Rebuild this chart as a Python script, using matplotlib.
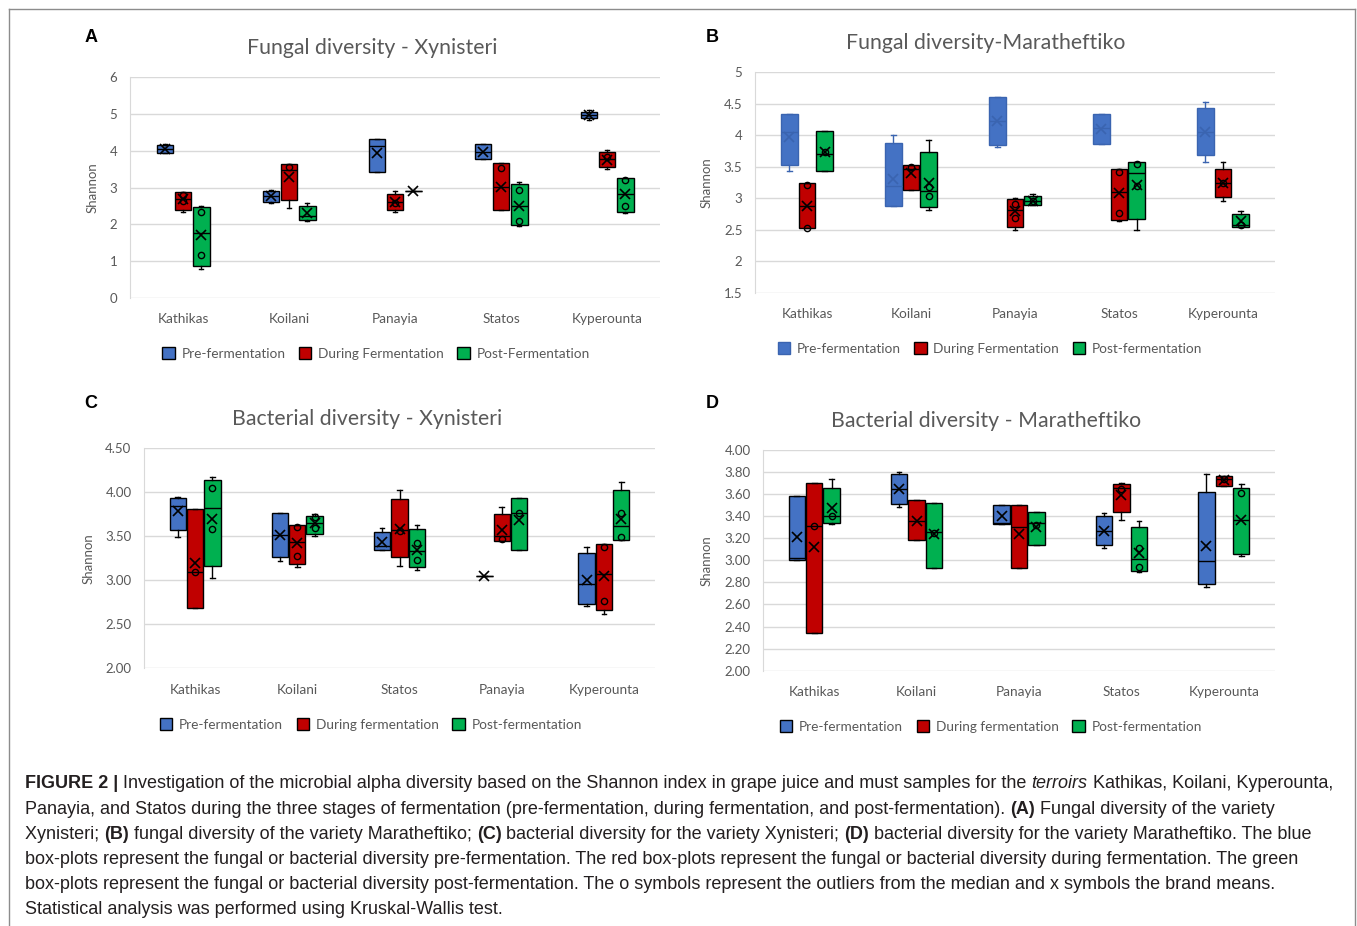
import numpy as np
import matplotlib
matplotlib.use("Agg")
import matplotlib.pyplot as plt
from matplotlib.patches import Patch
from matplotlib.lines import Line2D

W, H = 1357, 926

# stage order in every array below: pre, during, post fermentation
STAGE_COLORS = ["#4472C4", "#C00000", "#00B050"]

# ---- A: fungal diversity, Xynisteri ----
A_sites = ["Kathikas", "Koilani", "Panayia", "Statos", "Kyperounta"]
A_lo = [[3.93, 2.59, 3.43, 3.77, 4.84], [2.34, 2.46, 2.34, 2.40, 3.52], [0.80, 2.10, 2.91, 1.96, 2.30]]
A_q1 = [[3.95, 2.60, 3.43, 3.77, 4.88], [2.39, 2.67, 2.39, 2.40, 3.55], [0.87, 2.12, 2.91, 1.98, 2.35]]
A_med = [[4.05, 2.76, 4.14, 3.98, 4.98], [2.68, 3.48, 2.62, 3.03, 3.78], [1.76, 2.23, 2.91, 2.51, 2.83]]
A_q3 = [[4.15, 2.91, 4.32, 4.19, 5.05], [2.87, 3.64, 2.82, 3.66, 3.98], [2.48, 2.50, 2.91, 3.10, 3.27]]
A_hi = [[4.18, 2.93, 4.32, 4.19, 5.10], [2.87, 3.64, 2.92, 3.68, 4.01], [2.51, 2.59, 2.91, 3.15, 3.27]]
A_mean = [[4.05, 2.76, 3.95, 3.96, 4.98], [2.70, 3.28, 2.60, 3.03, 3.75], [1.70, 2.30, 2.91, 2.51, 2.83]]
A_pts = [[[], [], [], [], []],
         [[2.80, 2.65], [3.57], [2.57], [3.54], [3.82]],
         [[2.35, 1.17], [], [], [2.94, 2.08], [3.21, 2.51]]]

# ---- B: fungal diversity, Maratheftiko ----
B_sites = ["Kathikas", "Koilani", "Panayia", "Statos", "Kyperounta"]
B_lo = [[3.44, 2.88, 3.82, 3.86, 3.58], [2.52, 3.13, 2.50, 2.64, 2.96], [3.44, 2.81, 2.89, 2.50, 2.55]]
B_q1 = [[3.53, 2.88, 3.85, 3.86, 3.68], [2.52, 3.13, 2.54, 2.66, 3.02], [3.44, 2.86, 2.89, 2.67, 2.55]]
B_med = [[4.05, 3.19, 4.22, 4.11, 4.05], [2.88, 3.47, 2.81, 3.10, 3.24], [3.70, 3.11, 2.95, 3.40, 2.57]]
B_q3 = [[4.33, 3.87, 4.60, 4.33, 4.44], [3.25, 3.53, 2.99, 3.46, 3.47], [4.06, 3.73, 3.04, 3.58, 2.75]]
B_hi = [[4.33, 4.00, 4.60, 4.34, 4.53], [3.25, 3.53, 3.01, 3.47, 3.57], [4.06, 3.92, 3.07, 3.58, 2.80]]
B_mean = [[3.98, 3.30, 4.22, 4.10, 4.05], [2.88, 3.40, 2.79, 3.08, 3.24], [3.74, 3.24, 2.96, 3.21, 2.64]]
B_pts = [[[], [], [], [], []],
         [[3.21, 2.53], [3.49], [2.91, 2.68], [3.42, 2.77], [3.24]],
         [[3.74], [3.18, 3.04], [2.96], [3.54, 3.19], [2.57]]]

# ---- C: bacterial diversity, Xynisteri ----
C_sites = ["Kathikas", "Koilani", "Statos", "Panayia", "Kyperounta"]
C_lo = [[3.49, 3.22, 3.35, 3.05, 2.71], [2.68, 3.15, 3.16, 3.45, 2.62], [3.03, 3.50, 3.12, 3.34, 3.46]]
C_q1 = [[3.57, 3.26, 3.35, 3.05, 2.73], [2.68, 3.18, 3.26, 3.45, 2.66], [3.16, 3.53, 3.15, 3.34, 3.46]]
C_med = [[3.84, 3.52, 3.39, 3.05, 2.96], [3.09, 3.44, 3.57, 3.50, 3.07], [3.82, 3.65, 3.33, 3.77, 3.62]]
C_q3 = [[3.94, 3.76, 3.55, 3.05, 3.31], [3.81, 3.63, 3.92, 3.75, 3.41], [4.14, 3.73, 3.58, 3.93, 4.03]]
C_hi = [[3.95, 3.76, 3.60, 3.05, 3.38], [3.81, 3.63, 4.03, 3.83, 3.41], [4.17, 3.75, 3.63, 3.93, 4.12]]
C_mean = [[3.79, 3.52, 3.44, 3.05, 3.00], [3.20, 3.42, 3.58, 3.57, 3.05], [3.70, 3.65, 3.34, 3.69, 3.70]]
C_pts = [[[], [], [], [], []],
         [[3.09], [3.61, 3.28], [3.56], [3.47], [3.38, 2.77]],
         [[4.05, 3.58], [3.72, 3.60], [3.42, 3.23], [3.77], [3.77, 3.49]]]

# ---- D: bacterial diversity, Maratheftiko ----
D_sites = ["Kathikas", "Koilani", "Panayia", "Statos", "Kyperounta"]
D_lo = [[3.00, 3.48, 3.33, 3.11, 2.76], [2.34, 3.18, 2.93, 3.37, 3.67], [3.33, 2.93, 3.14, 2.89, 3.04]]
D_q1 = [[3.00, 3.51, 3.33, 3.14, 2.79], [2.34, 3.18, 2.93, 3.44, 3.67], [3.34, 2.93, 3.14, 2.90, 3.06]]
D_med = [[3.02, 3.65, 3.34, 3.27, 2.99], [3.31, 3.36, 3.30, 3.66, 3.74], [3.40, 3.26, 3.34, 3.01, 3.37]]
D_q3 = [[3.58, 3.78, 3.50, 3.40, 3.62], [3.70, 3.55, 3.50, 3.69, 3.76], [3.66, 3.52, 3.44, 3.30, 3.66]]
D_hi = [[3.58, 3.80, 3.50, 3.43, 3.78], [3.70, 3.55, 3.50, 3.70, 3.76], [3.74, 3.52, 3.44, 3.36, 3.69]]
D_mean = [[3.21, 3.65, 3.40, 3.27, 3.13], [3.12, 3.36, 3.24, 3.59, 3.73], [3.47, 3.24, 3.30, 3.07, 3.37]]
D_pts = [[[], [], [], [], []],
         [[3.31], [], [], [3.65], [3.74]],
         [[3.40], [3.25], [3.32], [3.11, 2.94], [3.61]]]

plt.rcParams['font.family'] = ['Lato', 'DejaVu Sans']
GRAY = "#595959"

fig = plt.figure(figsize=(W / 100, H / 100), dpi=100)


def px_rect(left, right, top, bottom):
    return [left / W, 1 - bottom / H, (right - left) / W, (bottom - top) / H]


def draw_panel(rect, sites, lo, q1, med, q3, hi, mean, pts, ylim, yticks, yfmt,
               ylab_x, blue_plain=False):
    ax = fig.add_axes(rect)
    offsets = [-0.17, 0.0, 0.17]
    for s in range(3):
        stats = []
        for i in range(len(sites)):
            stats.append(dict(whislo=lo[s][i], q1=q1[s][i], med=med[s][i],
                              q3=q3[s][i], whishi=hi[s][i], mean=mean[s][i],
                              fliers=pts[s][i]))
        edge = "black"
        if s == 0 and blue_plain:
            edge = "#3A64B0"
        pos = np.arange(len(sites)) + offsets[s]
        ax.bxp(stats, positions=pos, widths=0.16, patch_artist=True,
               showmeans=True, showfliers=True, manage_ticks=False,
               capwidths=0.045,
               boxprops=dict(facecolor=STAGE_COLORS[s], edgecolor=edge, linewidth=1.0),
               whiskerprops=dict(color=edge, linewidth=1.0),
               capprops=dict(color=edge, linewidth=1.0),
               medianprops=dict(color=edge, linewidth=1.0),
               meanprops=dict(marker='x', markersize=7, markeredgewidth=1.2,
                              markeredgecolor=edge),
               flierprops=dict(marker='o', markersize=4.5, markerfacecolor='none',
                               markeredgecolor=edge, markeredgewidth=1.0),
               zorder=3)
    ax.set_xlim(-0.5, len(sites) - 0.5)
    ax.set_ylim(*ylim)
    ax.set_yticks(yticks)
    ax.set_yticklabels([yfmt.format(v) for v in yticks])
    ax.set_xticks(np.arange(len(sites)))
    ax.set_xticklabels(sites)
    ax.tick_params(axis='x', length=0, pad=11, labelsize=9.8, labelcolor=GRAY)
    ax.tick_params(axis='y', length=0, pad=9, labelsize=9.5, labelcolor=GRAY)
    ax.grid(axis='y', color="#D9D9D9", linewidth=1.0, zorder=0)
    ax.set_axisbelow(True)
    for side in ("top", "right", "bottom"):
        ax.spines[side].set_visible(False)
    ax.spines["left"].set_color("#D9D9D9")
    ax.set_ylabel("Shannon", fontsize=9.5, color=GRAY)
    ax.yaxis.set_label_coords(ylab_x, 0.5)
    return ax


draw_panel(px_rect(130, 660, 77.3, 298), A_sites, A_lo, A_q1, A_med, A_q3, A_hi,
           A_mean, A_pts, (0, 6), [0, 1, 2, 3, 4, 5, 6], "{:g}", -0.059)
draw_panel(px_rect(755, 1275, 72.3, 292.7), B_sites, B_lo, B_q1, B_med, B_q3, B_hi,
           B_mean, B_pts, (1.5, 5), [1.5, 2, 2.5, 3, 3.5, 4, 4.5, 5], "{:g}", -0.081,
           blue_plain=True)
draw_panel(px_rect(144, 655, 448.3, 668.3), C_sites, C_lo, C_q1, C_med, C_q3, C_hi,
           C_mean, C_pts, (2, 4.5), [2.0, 2.5, 3.0, 3.5, 4.0, 4.5], "{:.2f}", -0.096)
draw_panel(px_rect(763, 1275, 450, 670.7), D_sites, D_lo, D_q1, D_med, D_q3, D_hi,
           D_mean, D_pts, (2, 4), [2.0, 2.2, 2.4, 2.6, 2.8, 3.0, 3.2, 3.4, 3.6, 3.8, 4.0],
           "{:.2f}", -0.098)

# panel titles
titles = [("Fungal diversity - Xynisteri", 372, 48),
          ("Fungal diversity-Maratheftiko", 986, 43),
          ("Bacterial diversity - Xynisteri", 367, 419),
          ("Bacterial diversity - Maratheftiko", 986, 421)]
for txt, x, y in titles:
    fig.text(x / W, 1 - y / H, txt, ha='center', va='center', fontsize=15.3, color=GRAY)

# panel letters
for txt, x, y in [("A", 91, 38), ("B", 712, 38), ("C", 91, 404), ("D", 712, 404)]:
    fig.text(x / W, 1 - y / H, txt, ha='center', va='center', fontsize=13,
             fontweight='bold', family='Liberation Sans', color='black')

# legends
legend_labels = [["Pre-fermentation", "During Fermentation", "Post-Fermentation"],
                 ["Pre-fermentation", "During Fermentation", "Post-fermentation"],
                 ["Pre-fermentation", "During fermentation", "Post-fermentation"],
                 ["Pre-fermentation", "During fermentation", "Post-fermentation"]]
legend_pos = [(376, 353.5), (990, 348.5), (371, 724.5), (991, 726.5)]
for k, (labels, (x, y)) in enumerate(zip(legend_labels, legend_pos)):
    handles = []
    for s in range(3):
        ec = "#3A64B0" if (k == 1 and s == 0) else "black"
        handles.append(Patch(facecolor=STAGE_COLORS[s], edgecolor=ec, linewidth=1.0))
    fig.legend(handles, labels, loc='center', bbox_to_anchor=(x / W, 1 - y / H),
               ncol=3, frameon=False, fontsize=9.8, labelcolor=GRAY,
               handlelength=0.9, handleheight=0.9, handletextpad=0.5,
               columnspacing=1.0, borderpad=0)

# caption, written run by run so bold and italic pieces sit inline
caption = [
    [("FIGURE 2 |", "bold"), (" Investigation of the microbial alpha diversity based on the Shannon index in grape juice and must samples for the ", "normal"),
     ("terroirs", "italic"), (" Kathikas, Koilani, Kyperounta,", "normal")],
    [("Panayia, and Statos during the three stages of fermentation (pre-fermentation, during fermentation, and post-fermentation). ", "normal"),
     ("(A)", "bold"), (" Fungal diversity of the variety", "normal")],
    [("Xynisteri; ", "normal"), ("(B)", "bold"), (" fungal diversity of the variety Maratheftiko; ", "normal"), ("(C)", "bold"),
     (" bacterial diversity for the variety Xynisteri; ", "normal"), ("(D)", "bold"),
     (" bacterial diversity for the variety Maratheftiko. The blue", "normal")],
    [("box-plots represent the fungal or bacterial diversity pre-fermentation. The red box-plots represent the fungal or bacterial diversity during fermentation. The green", "normal")],
    [("box-plots represent the fungal or bacterial diversity post-fermentation. The o symbols represent the outliers from the median and x symbols the brand means.", "normal")],
    [("Statistical analysis was performed using Kruskal-Wallis test.", "normal")],
]
CAP_SIZE = 12.95
CAP_COLOR = "#231F20"
renderer = fig.canvas.get_renderer()


def run_width(txt, style):
    kw = dict(fontsize=CAP_SIZE, family='Liberation Sans')
    if style == "bold":
        kw["fontweight"] = "bold"
    if style == "italic":
        kw["fontstyle"] = "italic"
    t1 = fig.text(0, 0, txt + "|", **kw)
    t2 = fig.text(0, 0, "|", **kw)
    w = t1.get_window_extent(renderer).width - t2.get_window_extent(renderer).width
    t1.remove()
    t2.remove()
    return w, kw


for li, line in enumerate(caption):
    x = 25.0
    y = 784 + li * 25.2
    for txt, style in line:
        w, kw = run_width(txt, style)
        fig.text(x / W, 1 - y / H, txt, va='center', ha='left', color=CAP_COLOR, **kw)
        x += w

# outer frame (open at the bottom)
frame = dict(color="#8C8C8C", linewidth=1.0, transform=fig.transFigure)
fig.add_artist(Line2D([8.5 / W, 8.5 / W], [0, 1 - 9 / H], **frame))
fig.add_artist(Line2D([1355 / W, 1355 / W], [0, 1 - 9 / H], **frame))
fig.add_artist(Line2D([8.5 / W, 1355 / W], [1 - 9 / H, 1 - 9 / H], **frame))

fig.savefig("out.png", dpi=100)
